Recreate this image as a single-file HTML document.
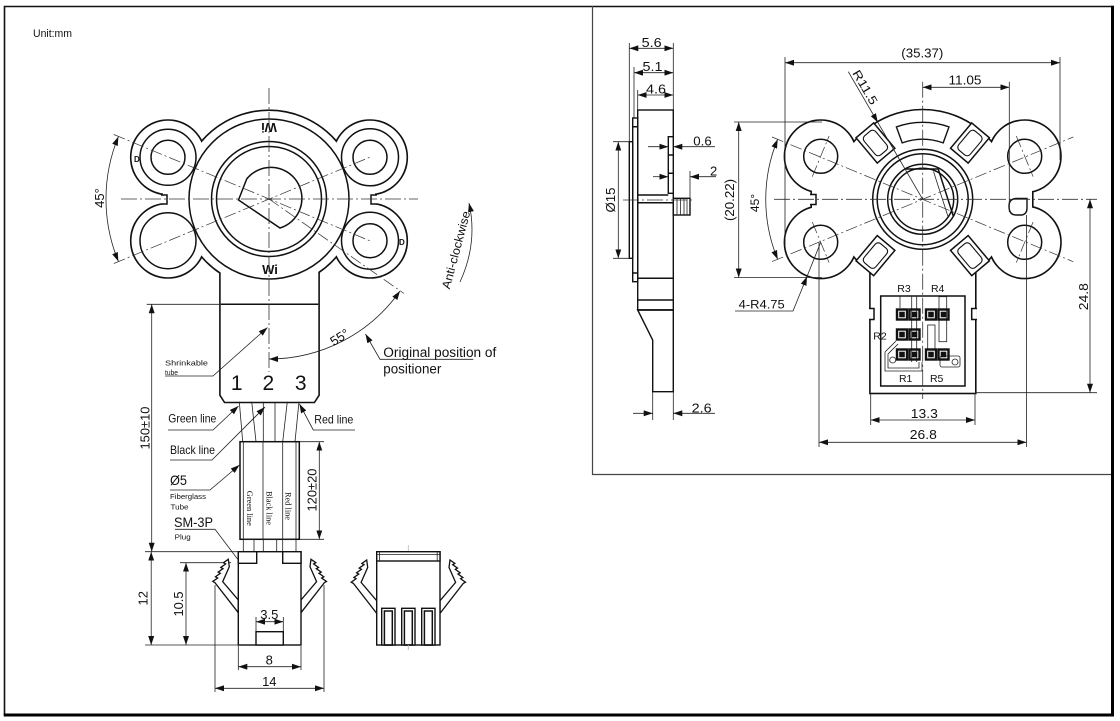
<!DOCTYPE html>
<html><head><meta charset="utf-8"><style>
html,body{margin:0;padding:0;background:#fff;}
svg{display:block;}
text{font-family:"Liberation Sans",Arial,sans-serif;fill:#111;}
.o{fill:none;stroke:#111;stroke-width:1.5;}
.w{fill:#fff;stroke:#111;stroke-width:1.4;}
.t{fill:none;stroke:#222;stroke-width:0.8;}
.c{fill:none;stroke:#333;stroke-width:0.8;stroke-dasharray:16 3 2 3;}
.c2{fill:none;stroke:#333;stroke-width:0.7;stroke-dasharray:12 3 2 3;}
.d{fill:none;stroke:#222;stroke-width:0.8;marker-start:url(#a);marker-end:url(#a);}
.e{fill:none;stroke:#222;stroke-width:0.8;marker-end:url(#a);}
.s{font-family:"Liberation Serif",serif;}
</style></head><body>
<svg width="1120" height="721" viewBox="0 0 1120 721" xmlns="http://www.w3.org/2000/svg">
<defs>
<marker id="a" viewBox="0 0 9 6" refX="9" refY="3" markerWidth="9" markerHeight="6" markerUnits="userSpaceOnUse" orient="auto-start-reverse"><path d="M0,0 L9,3 L0,6 Z" fill="#111"/></marker>
<g id="L">
<circle cx="269" cy="199" r="88"/>
<circle cx="168" cy="157.3" r="36.5"/>
<circle cx="168" cy="240.7" r="36.5"/>
<circle cx="370" cy="157.3" r="36.5"/>
<circle cx="370" cy="240.7" r="36.5"/>
<rect x="163" y="189" width="40" height="20"/>
<rect x="335" y="189" width="40" height="20"/>
<path d="M220.7,250 V395 L225,401.7 H314 L318.3,395 V250 Z"/>
</g>
<g id="R">
<circle cx="922.7" cy="199.3" r="89"/>
<circle cx="820.7" cy="156.3" r="35.5"/>
<circle cx="820.7" cy="242.3" r="35.5"/>
<circle cx="1024.7" cy="156.3" r="35.5"/>
<circle cx="1024.7" cy="242.3" r="35.5"/>
<rect x="812" y="189" width="40" height="21"/>
<rect x="993" y="189" width="39" height="21"/>
<rect x="870.7" y="262" width="104.3" height="130.7"/>
</g>
<g id="slot">
<rect x="57" y="-11.5" width="33" height="23" fill="#fff" stroke="#111" stroke-width="1.5"/>
<rect x="61" y="-7.5" width="25" height="15" rx="4" fill="none" stroke="#111" stroke-width="1.1"/>
</g>
<path id="latch" d="M228.3,559.3 L223.46,562.74 L225.64,563.98 L220.8,567.42 L222.98,568.66 L218.14,572.1 L220.32,573.34 L215.48,576.78 L217.66,578.02 L212.82,581.46 L215,582.7 L238.3,612.7 L238.3,600 L222.7,581.7 L229.3,566.7 Z"/>
<path id="latchR" d="M311,559.3 L315.84,562.74 L313.66,563.98 L318.5,567.42 L316.32,568.66 L321.16,572.1 L318.98,573.34 L323.82,576.78 L321.64,578.02 L326.48,581.46 L324.3,582.7 L301,612.7 L301,600 L316.6,581.7 L310,566.7 Z"/>
</defs>

<rect x="0" y="0" width="1120" height="721" fill="#fff"/>
<!-- frame -->
<path d="M4.5,715 V6.5 H1113" fill="none" stroke="#111" stroke-width="1.6"/>
<path d="M1112.5,5.7 V715 H3.7" fill="none" stroke="#000" stroke-width="3"/>
<path d="M592.5,6 V474.5 H1111" fill="none" stroke="#444" stroke-width="1.2"/>

<text x="33" y="37" font-size="11" textLength="39" lengthAdjust="spacingAndGlyphs">Unit:mm</text>

<!-- ===== LEFT VIEW ===== -->
<use href="#L" fill="#fff" stroke="#111" stroke-width="3.2"/>
<use href="#L" fill="#fff" stroke="none"/>
<!-- notches -->
<rect x="161" y="195" width="6" height="9" fill="#fff"/>
<path class="o" d="M161,195 H167 V204 H161"/>
<rect x="371" y="195" width="6" height="9" fill="#fff"/>
<path class="o" d="M377,195 H371 V204 H377"/>
<circle class="o" cx="269" cy="199" r="80" stroke-width="1.5"/>
<circle class="o" cx="269" cy="199" r="57.5" stroke-width="1.5"/>
<circle class="o" cx="269" cy="199" r="52.5" stroke-width="1.5"/>
<path class="o" d="M238.5,200 L246.7,179 A31 31 0 1 1 280,228 Z" stroke-width="1.5"/>
<!-- ears -->
<circle class="o" cx="168" cy="157.3" r="28" stroke-width="1.5"/>
<circle class="o" cx="168" cy="157.3" r="17" stroke-width="1.5"/>
<circle class="o" cx="168" cy="240.7" r="28" stroke-width="1.5"/>
<circle class="o" cx="370" cy="157.3" r="28.5" stroke-width="1.5"/>
<circle class="o" cx="370" cy="157.3" r="17" stroke-width="1.5"/>
<circle class="o" cx="370" cy="240.7" r="28.5" stroke-width="1.5"/>
<circle class="o" cx="370" cy="240.7" r="17" stroke-width="1.5"/>
<line class="o" x1="220.7" y1="304.3" x2="318.3" y2="304.3" stroke-width="1.5"/>
<text x="134" y="162" font-size="8" font-weight="bold">D</text>
<text x="399" y="245" font-size="8" font-weight="bold">D</text>
<text x="269" y="132" font-size="13" font-weight="bold" text-anchor="middle" transform="rotate(180 269 127.5)">Wi</text>
<text x="270" y="274" font-size="13" font-weight="bold" text-anchor="middle">Wi</text>
<!-- centre lines -->
<path class="c" d="M121,199 H418"/>
<path class="c" d="M269,88 V372"/>
<path class="c2" d="M113.8,134.5 L370,240.8"/>
<path class="c2" d="M113.8,263.5 L370,157.2"/>
<path class="c2" d="M269,199 L404,293.5" stroke-dasharray="20 3 2 3"/>
<!-- 45 deg -->
<path class="d" d="M118.4,136.6 A163 163 0 0 0 118.4,261.4"/>
<text transform="translate(104,198) rotate(-90)" font-size="13" text-anchor="middle">45°</text>
<!-- 55 deg -->
<path class="d" d="M269,359 A160 160 0 0 0 400,291"/>
<text transform="translate(342,341) rotate(-32)" font-size="13" text-anchor="middle">55°</text>
<!-- anti-clockwise -->
<path class="e" d="M460,282 Q478,243 469,203"/>
<text transform="translate(460,251) rotate(-75)" font-size="12" text-anchor="middle" textLength="80" lengthAdjust="spacingAndGlyphs">Anti-clockwise</text>
<!-- original position -->
<path class="e" d="M473.3,359.3 H380 L365.5,334"/>
<text x="383.3" y="357" font-size="13.5" textLength="113" lengthAdjust="spacingAndGlyphs">Original position of</text>
<text x="383.3" y="373.5" font-size="13.5" textLength="58" lengthAdjust="spacingAndGlyphs">positioner</text>
<!-- shrinkable -->
<path class="e" d="M165,376 H213 L267.5,327.5"/>
<text x="165" y="365.5" font-size="7.5" textLength="43" lengthAdjust="spacingAndGlyphs">Shrinkable</text>
<text x="165" y="375" font-size="7.5" textLength="13" lengthAdjust="spacingAndGlyphs">tube</text>
<text x="236.7" y="390" font-size="21" text-anchor="middle">1</text>
<text x="268.3" y="390" font-size="21" text-anchor="middle">2</text>
<text x="300.7" y="390" font-size="21" text-anchor="middle">3</text>

<!-- wires -->
<path class="t" d="M239.3,401.7 L242.7,441.7 M251.7,401.7 L256,441.7 M263.3,401.7 L263.3,441.7 M275,401.7 L275,441.7 M287.3,401.7 L282.7,441.7 M299,401.7 L295,441.7" stroke-width="1"/>
<!-- tube -->
<rect x="240" y="441.7" width="59.3" height="97.6" class="o" stroke-width="1.3"/>
<path class="t" d="M243.3,441.7 V539.3 M263,441.7 V539.3 M282.7,441.7 V539.3 M296,441.7 V539.3" stroke-width="1"/>
<text class="s" transform="translate(247,508.3) rotate(90)" font-size="8" text-anchor="middle" textLength="35" lengthAdjust="spacingAndGlyphs">Green line</text>
<text class="s" transform="translate(266.5,508) rotate(90)" font-size="8" text-anchor="middle" textLength="34" lengthAdjust="spacingAndGlyphs">Black line</text>
<text class="s" transform="translate(285.5,506) rotate(90)" font-size="8" text-anchor="middle" textLength="28" lengthAdjust="spacingAndGlyphs">Red line</text>
<!-- stubs -->
<rect x="243.3" y="539.3" width="10.7" height="12.4" class="t" stroke-width="1"/>
<rect x="263.3" y="539.3" width="13.4" height="12.4" class="t" stroke-width="1"/>
<rect x="282.7" y="539.3" width="13.3" height="12.4" class="t" stroke-width="1"/>

<!-- labels left -->
<path class="e" d="M168,430 H213 L238.5,406"/>
<text x="168.3" y="422.5" font-size="12" textLength="48" lengthAdjust="spacingAndGlyphs">Green line</text>
<path class="e" d="M170,460 H212 L265,407"/>
<text x="170" y="454" font-size="12" textLength="45" lengthAdjust="spacingAndGlyphs">Black line</text>
<path class="e" d="M355,430 H313.3 L299.5,404"/>
<text x="314.3" y="423.5" font-size="12" textLength="39" lengthAdjust="spacingAndGlyphs">Red line</text>
<path class="e" d="M170,490 H210 L239.5,465"/>
<text x="170" y="485" font-size="14" textLength="17" lengthAdjust="spacingAndGlyphs">Ø5</text>
<text x="170" y="499" font-size="7.5" textLength="36" lengthAdjust="spacingAndGlyphs">Fiberglass</text>
<text x="170.5" y="509.5" font-size="7.5" textLength="18" lengthAdjust="spacingAndGlyphs">Tube</text>
<path class="e" d="M175,529.3 H215 L256,583.3"/>
<text x="174" y="527" font-size="14" textLength="39" lengthAdjust="spacingAndGlyphs">SM-3P</text>
<text x="174.7" y="539.5" font-size="7.5" textLength="16" lengthAdjust="spacingAndGlyphs">Plug</text>

<!-- dims left -->
<path class="t" d="M146.7,304.3 H219"/>
<path class="d" d="M151.7,304.3 V551.7"/>
<text transform="translate(149.5,428) rotate(-90)" font-size="13" text-anchor="middle" textLength="43" lengthAdjust="spacingAndGlyphs">150±10</text>
<path class="t" d="M145,551.7 H238.3 M145,645 H238.3"/>
<path class="d" d="M151.2,551.7 V645"/>
<text transform="translate(147.5,598.3) rotate(-90)" font-size="13" text-anchor="middle">12</text>
<path class="t" d="M180,562.7 H231"/>
<path class="d" d="M186,562.7 V645"/>
<text transform="translate(183,604) rotate(-90)" font-size="13" text-anchor="middle" textLength="25" lengthAdjust="spacingAndGlyphs">10.5</text>
<path class="t" d="M300,441.7 H324 M300,539.3 H324"/>
<path class="d" d="M319.3,441.7 V539.3"/>
<text transform="translate(316.5,490) rotate(-90)" font-size="13" text-anchor="middle" textLength="43" lengthAdjust="spacingAndGlyphs">120±20</text>

<!-- connector front -->
<use href="#latch" fill="#fff" stroke="#111" stroke-width="1.3"/>
<use href="#latchR" fill="#fff" stroke="#111" stroke-width="1.3"/>
<rect x="238.3" y="551.7" width="62.7" height="93.3" class="w"/>
<rect x="238.3" y="551.7" width="18.4" height="11.6" class="w"/>
<rect x="282.7" y="551.7" width="18.3" height="11.6" class="w"/>
<rect x="256" y="631.7" width="27.3" height="13.3" class="w"/>
<path class="t" d="M256,617 V631.7 M283.3,617 V631.7"/>
<path class="d" d="M256,621.7 H283.3"/>
<text x="269.3" y="619" font-size="13" text-anchor="middle">3.5</text>
<path class="t" d="M238.3,646 V670 M301,646 V670 M215,585 V692 M324,585 V692"/>
<path class="d" d="M238.3,666.7 H301"/>
<text x="269.3" y="664.5" font-size="13" text-anchor="middle">8</text>
<path class="d" d="M215,688.3 H324"/>
<text x="269.3" y="686" font-size="13" text-anchor="middle">14</text>

<!-- connector side -->
<line x1="408.3" y1="545" x2="408.3" y2="650" stroke="#bbb" stroke-width="0.8"/>
<use href="#latch" transform="translate(138.4,0.7)" fill="#fff" stroke="#111" stroke-width="1.3"/>
<use href="#latchR" transform="translate(139,0.7)" fill="#fff" stroke="#111" stroke-width="1.3"/>
<rect x="376.7" y="551.7" width="63.3" height="93.3" class="w"/>
<rect x="376.7" y="551.7" width="63.3" height="9.3" class="w"/>
<path class="t" d="M376.7,554.5 H440 M379.5,551.7 V561 M437.2,551.7 V561" stroke-width="1"/>
<rect x="381.7" y="608.3" width="13.3" height="36.7" class="w"/>
<rect x="401.7" y="608.3" width="13.3" height="36.7" class="w"/>
<rect x="421.7" y="608.3" width="13.3" height="36.7" class="w"/>
<rect x="384.4" y="611" width="7.9" height="34" class="o" stroke-width="1.2"/>
<rect x="404.4" y="611" width="7.9" height="34" class="o" stroke-width="1.2"/>
<rect x="424.4" y="611" width="7.9" height="34" class="o" stroke-width="1.2"/>
<line x1="408.3" y1="645" x2="408.3" y2="650" stroke="#bbb" stroke-width="0.8"/>

<!-- ===== SIDE VIEW ===== -->
<rect x="637.7" y="110" width="35.6" height="200" class="w"/>
<path class="w" d="M637.7,310 L652.7,340 V391.7 H673.3 V310 Z"/>
<rect x="632.7" y="118" width="5" height="163.7" class="w" stroke-width="1.2"/>
<rect x="629.3" y="141.7" width="3.4" height="116.6" class="w" stroke-width="1.2"/>
<path class="o" stroke-width="1" d="M632.7,126.7 H637.7 M632.7,273 H637.7"/>
<rect x="668.3" y="136.7" width="5" height="56.6" class="w" stroke-width="1.2"/>
<path class="o" stroke-width="1" d="M668.3,155 H673.3 M668.3,173.3 H673.3"/>
<path class="o" stroke-width="1.2" d="M637.7,195 H668.3 M637.7,202.7 H673.3 M637.7,278.3 H673.3 M637.7,300 H673.3 M637.7,310 H673.3"/>
<rect x="673.3" y="198.3" width="16.7" height="16.7" class="w" stroke-width="1.2"/>
<path class="t" d="M677,198.3 V215 M680.5,198.3 V215 M684,198.3 V215 M687,198.3 V215"/>
<path class="c" d="M623,200 H693" stroke-dasharray="10 3 2 3"/>
<!-- side dims -->
<path class="t" d="M629.3,43 V141.7 M673.3,43 V110 M634,67 V118 M637.7,90 V110"/>
<path class="d" d="M629.3,48.3 H673.3"/>
<text x="651.7" y="47" font-size="13" text-anchor="middle" textLength="20" lengthAdjust="spacingAndGlyphs">5.6</text>
<path class="d" d="M634,72.7 H673.3"/>
<text x="652.5" y="71" font-size="13" text-anchor="middle" textLength="20" lengthAdjust="spacingAndGlyphs">5.1</text>
<path class="d" d="M637.7,95 H673.3"/>
<text x="656" y="93.5" font-size="13" text-anchor="middle" textLength="20" lengthAdjust="spacingAndGlyphs">4.6</text>
<path class="e" d="M648,146.7 H668.3"/>
<path class="e" d="M715,146.7 H673.3"/>
<text x="693.3" y="145.5" font-size="13" textLength="18.4" lengthAdjust="spacingAndGlyphs">0.6</text>
<path class="t" d="M690,171 V198.3"/>
<path class="e" d="M653,176.7 H668.3"/>
<path class="e" d="M716,176.7 H690"/>
<text x="710" y="175.5" font-size="13">2</text>
<path class="t" d="M652.7,392 V420 M673.3,392 V420"/>
<path class="e" d="M633,413.3 H652.7"/>
<path class="e" d="M715,413.3 H673.3"/>
<text x="691.7" y="412.5" font-size="13" textLength="20" lengthAdjust="spacingAndGlyphs">2.6</text>
<path class="t" d="M613,141.7 H629.3 M613,258.3 H629.3"/>
<path class="d" d="M618.3,141.7 V258.3"/>
<text transform="translate(615,200) rotate(-90)" font-size="13" text-anchor="middle" textLength="25" lengthAdjust="spacingAndGlyphs">Ø15</text>

<!-- ===== RIGHT VIEW ===== -->
<use href="#R" fill="#fff" stroke="#111" stroke-width="3.2"/>
<use href="#R" fill="#fff" stroke="none"/>
<rect x="810" y="194.5" width="6.5" height="10" fill="#fff"/>
<path class="o" d="M810,194.5 H816 V204.5 H810"/>
<rect x="869" y="308.5" width="5" height="11" fill="#fff"/>
<path class="o" d="M869,308.5 H874 V319.5 H869"/>
<rect x="971.7" y="308.5" width="5" height="11" fill="#fff"/>
<path class="o" d="M977,308.5 H971.7 V319.5 H977"/>
<path class="w" d="M1027,198.5 L1016,198.5 Q1009,199 1009,206 Q1009,215 1016,215 L1022,215 Q1027,214 1027,208 Z"/>
<use href="#slot" transform="translate(922.7,199.3) rotate(-130)"/>
<use href="#slot" transform="translate(922.7,199.3) rotate(-50)"/>
<use href="#slot" transform="translate(922.7,199.3) rotate(50)"/>
<use href="#slot" transform="translate(922.7,199.3) rotate(130)"/>
<path class="w" d="M896.4,126.9 A77 77 0 0 1 949,126.9 L943.2,142.9 A60 60 0 0 0 902.2,142.9 Z"/>
<circle class="o" cx="922.7" cy="199.3" r="50" stroke-width="1.5"/>
<circle class="o" cx="922.7" cy="199.3" r="45.5" stroke-width="1.5"/>
<circle class="o" cx="922.7" cy="199.3" r="35" stroke-width="1.5"/>
<circle class="o" cx="922.7" cy="199.3" r="31" stroke-width="1.2"/>
<path class="o" stroke-width="1.5" d="M906,169 L938.2,169 L953.4,216.4"/>
<path class="t" d="M933.5,171.5 L948,216.5" stroke-width="1"/>
<circle class="o" cx="820.7" cy="156.3" r="17" stroke-width="1.5"/>
<circle class="o" cx="820.7" cy="242.3" r="17" stroke-width="1.5"/>
<circle class="o" cx="1024.7" cy="156.3" r="17" stroke-width="1.5"/>
<circle class="o" cx="1024.7" cy="242.3" r="17" stroke-width="1.5"/>
<!-- PCB -->
<rect x="880.7" y="296" width="84.3" height="90" class="o" stroke-width="1.4"/>
<path class="t" d="M900,296 V308 M911.7,296 V362 M916.7,296 V362" stroke-width="1"/>
<rect x="927.7" y="325" width="7.3" height="25" class="t" stroke-width="1"/>
<rect x="939" y="296.7" width="7.7" height="45" class="t" stroke-width="1"/>
<path class="t" stroke-width="1" d="M896,341 L885,352 V371 H922 V362 M898,344 L888,354 V368 H919 V362"/>
<circle class="t" cx="892.7" cy="360" r="3" stroke-width="1"/>
<rect x="940" y="356" width="20" height="11" rx="2" class="t" stroke-width="1"/>
<circle class="t" cx="955" cy="362" r="3" stroke-width="1"/>
<g fill="none" stroke="#111" stroke-width="2.4">
<rect x="897" y="309.5" width="10" height="10"/><rect x="909.5" y="309.5" width="10" height="10"/><rect x="926" y="309.5" width="10" height="10"/><rect x="938.5" y="309.5" width="10" height="10"/>
<rect x="897" y="329.5" width="10" height="10"/><rect x="909.5" y="329.5" width="10" height="10"/>
<rect x="897" y="349.5" width="10" height="10"/><rect x="909.5" y="349.5" width="10" height="10"/><rect x="926" y="349.5" width="10" height="10"/><rect x="938.5" y="349.5" width="10" height="10"/>
</g>
<g fill="#111">
<rect x="899.2" y="311.7" width="5.6" height="5.6"/><rect x="911.7" y="311.7" width="5.6" height="5.6"/><rect x="928.2" y="311.7" width="5.6" height="5.6"/><rect x="940.7" y="311.7" width="5.6" height="5.6"/>
<rect x="899.2" y="331.7" width="5.6" height="5.6"/><rect x="911.7" y="331.7" width="5.6" height="5.6"/>
<rect x="899.2" y="351.7" width="5.6" height="5.6"/><rect x="911.7" y="351.7" width="5.6" height="5.6"/><rect x="928.2" y="351.7" width="5.6" height="5.6"/><rect x="940.7" y="351.7" width="5.6" height="5.6"/>
</g>
<text x="904" y="292" font-size="10.5" text-anchor="middle">R3</text>
<text x="937.7" y="292" font-size="10.5" text-anchor="middle">R4</text>
<text x="880" y="339.5" font-size="10.5" text-anchor="middle">R2</text>
<text x="905.7" y="382" font-size="10.5" text-anchor="middle">R1</text>
<text x="936.7" y="382" font-size="10.5" text-anchor="middle">R5</text>
<!-- centre lines right -->
<path class="c" d="M774,199.3 H1097"/>
<path class="c" d="M922.7,81.7 V399"/>
<path class="c2" d="M772,137 L1073.3,261.7"/>
<path class="c2" d="M772,261.6 L1073.3,137"/>
<path class="c2" d="M812.3,176.6 L829.1,136 M812.3,222 L829.1,262.6 M1016.3,136 L1033.1,176.6 M1033.1,222 L1016.3,262.6"/>
<!-- right dims -->
<path class="t" d="M785,57 V245 M1060,57 V160"/>
<path class="d" d="M785,62.7 H1060"/>
<text x="922.3" y="57.5" font-size="13" text-anchor="middle" textLength="42" lengthAdjust="spacingAndGlyphs">(35.37)</text>
<path class="t" d="M1009.3,81.7 V212"/>
<path class="d" d="M922.7,87.3 H1009.3"/>
<text x="965" y="84.5" font-size="13" text-anchor="middle" textLength="33" lengthAdjust="spacingAndGlyphs">11.05</text>
<path class="e" d="M848.3,71.7 L877.8,122.4"/>
<path class="t" d="M877.8,122.4 L922.7,199.3"/>
<text transform="translate(852,73) rotate(59.7)" font-size="12" textLength="38" lengthAdjust="spacingAndGlyphs">R11.5</text>
<path class="t" d="M734,122 H822 M734,277.5 H822"/>
<path class="d" d="M738.7,122 V277.5"/>
<text transform="translate(734,200) rotate(-90)" font-size="13" text-anchor="middle" textLength="42" lengthAdjust="spacingAndGlyphs">(20.22)</text>
<path class="d" d="M777.7,139.2 A157 157 0 0 0 777.7,259.4"/>
<text transform="translate(759,203) rotate(-90)" font-size="12" text-anchor="middle">45°</text>
<path class="e" d="M735,311 H793 L807,276.5"/>
<path class="t" d="M807,276.5 L820.7,242.3"/>
<text x="738.7" y="308.5" font-size="12" textLength="46" lengthAdjust="spacingAndGlyphs">4-R4.75</text>
<path class="t" d="M975,392.7 H1097"/>
<path class="d" d="M1090,199.3 V392.7"/>
<text transform="translate(1088,296.7) rotate(-90)" font-size="13" text-anchor="middle" textLength="27" lengthAdjust="spacingAndGlyphs">24.8</text>
<path class="t" d="M870.7,393 V425 M975,393 V425"/>
<path class="d" d="M870.7,420 H975"/>
<text x="924.3" y="418" font-size="13" text-anchor="middle" textLength="27" lengthAdjust="spacingAndGlyphs">13.3</text>
<path class="t" d="M819,242.3 V447 M1026.5,215 V447"/>
<path class="d" d="M819,442.3 H1026.5"/>
<text x="923.3" y="439" font-size="13" text-anchor="middle" textLength="27" lengthAdjust="spacingAndGlyphs">26.8</text>
</svg>
</body></html>
